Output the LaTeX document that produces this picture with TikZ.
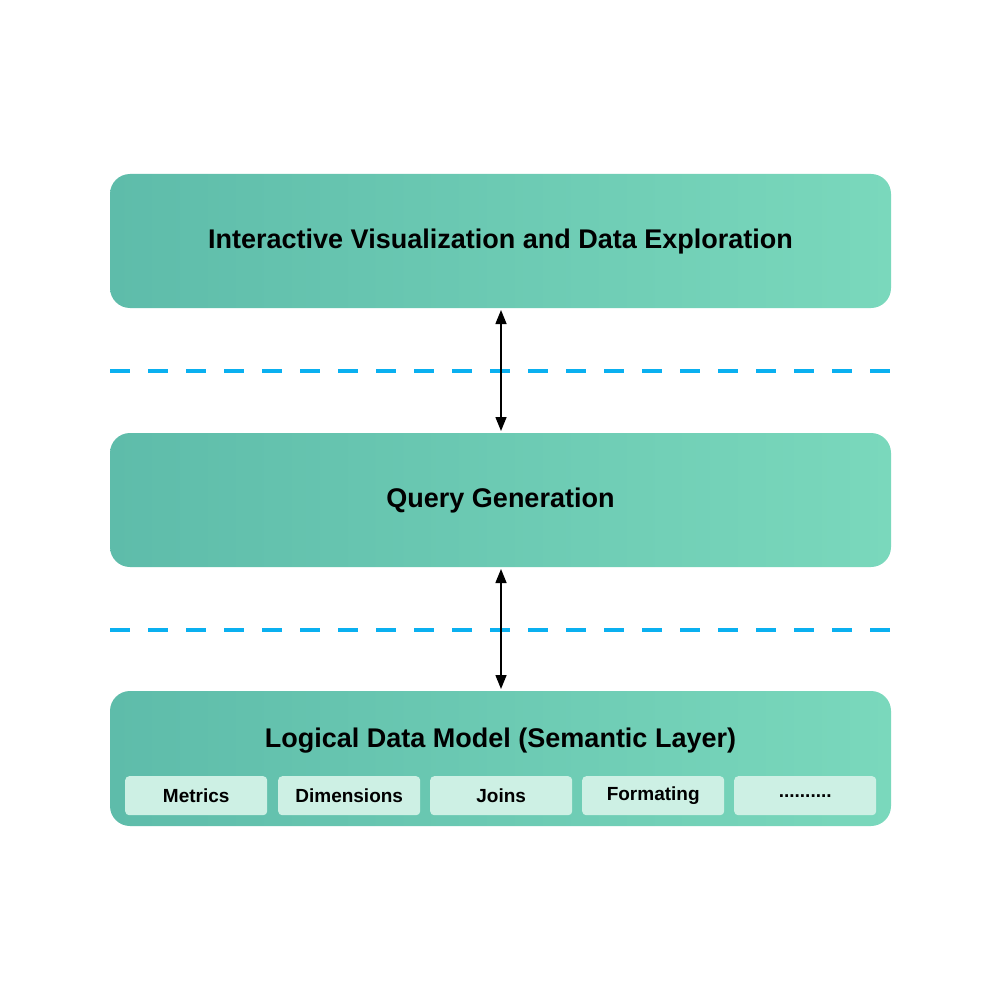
\documentclass[tikz,border=0pt]{standalone}
\usepackage{fontspec}
\setmainfont{Liberation Sans}
\usetikzlibrary{arrows.meta}
\definecolor{gleft}{RGB}{94,188,170}
\definecolor{gright}{RGB}{122,216,188}
\definecolor{subfill}{RGB}{205,240,228}
\definecolor{dashblue}{RGB}{10,176,240}
\tikzset{
  layer/.style={rounded corners=20pt, left color=gleft, right color=gright, draw=none},
  layertext/.style={font=\bfseries\fontsize{27}{30}\selectfont, text=black},
  sub/.style={fill=subfill, rounded corners=4pt, draw=none, minimum width=142pt, minimum height=39pt, inner sep=0pt, font=\bfseries\fontsize{19}{21}\selectfont, text=black, anchor=north west},
  sep/.style={dashblue, line width=4pt, dash pattern=on 20pt off 18pt},
  link/.style={black, line width=1.5pt, {Triangle[width=11pt,length=14pt]}-{Triangle[width=11pt,length=14pt]}}
}
\begin{document}
\begin{tikzpicture}[x=1pt,y=-1pt]
\useasboundingbox (0,0) rectangle (1000,1000);
\fill[white] (0,0) rectangle (1000,1000);
% layers
\shade[layer] (110,174) rectangle (891,308);
\node[layertext] (top) at (500.5,242) {Interactive Visualization and Data Exploration};
\shade[layer] (110,433) rectangle (891,567);
\node[layertext] (mid) at (500.5,501) {Query Generation};
\shade[layer] (110,691) rectangle (891,826);
\node[layertext] (bot) at (500.5,741) {Logical Data Model (Semantic Layer)};
% coordinates for box edges
\coordinate (topB) at (501,310);
\coordinate (midT) at (501,431);
\coordinate (midB) at (501,569);
\coordinate (botT) at (501,689);
% separators
\coordinate (s1a) at (110,371); \coordinate (s1b) at (891,371);
\coordinate (s2a) at (110,630); \coordinate (s2b) at (891,630);
\draw[sep] (s1a) -- (s1b);
\draw[sep] (s2a) -- (s2b);
% arrows
\draw[link] (topB) -- (midT);
\draw[link] (midB) -- (botT);
% sub boxes
\node[sub] (metrics) at (125,776) {Metrics};
\node[sub] (dims) at (278,776) {Dimensions};
\node[sub] (joins) at (430,776) {Joins};
\node[sub] (fmt) at (582,776) {Formating};
\node[sub] (more) at (734,776) {..........};
\end{tikzpicture}
\end{document}
